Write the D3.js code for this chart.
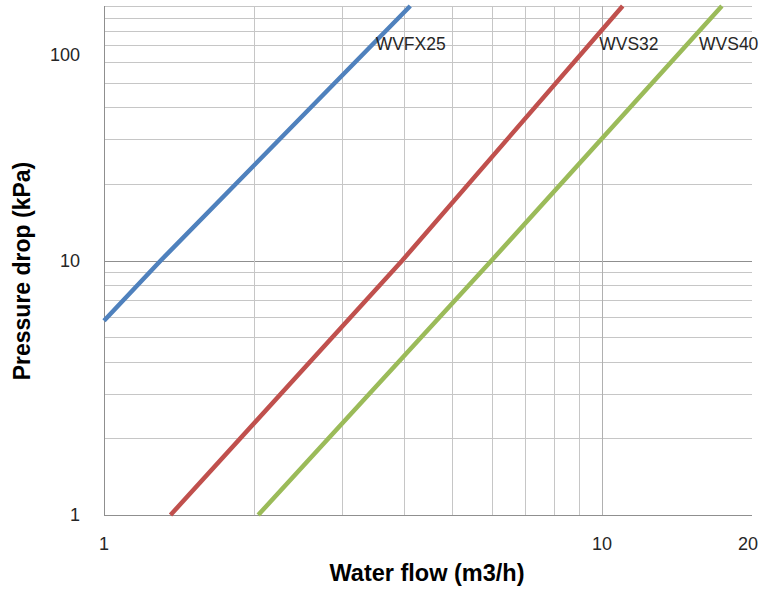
<!DOCTYPE html>
<html>
<head>
<meta charset="utf-8">
<script src="https://cdn.jsdelivr.net/npm/d3@7"></script>
<style>
  html, body { margin: 0; padding: 0; background: #fff; }
  svg { display: block; font-family: "Liberation Sans", Arial, sans-serif; }
</style>
</head>
<body>
<svg id="chart" width="775" height="589"></svg>
<script>
// ---- data ----
const seriesNames = ["WVFX25", "WVS32", "WVS40"];
const seriesColors = ["#4F81BD", "#C0504D", "#9BBB59"];
// water flow (m3/h) and pressure drop (kPa) pairs
const flowWVFX25 = [1.0, 1.3, 4.12];
const dropWVFX25 = [5.8, 10, 100];
const flowWVS32 = [1.36, 3.97, 11.0];
const dropWVS32 = [1, 10, 100];
const flowWVS40 = [2.04, 6.0, 17.4];
const dropWVS40 = [1, 10, 100];

const xTickLabels = [1, 10, 20];
const yTickLabels = [1, 10, 100];
const xGrid = [2, 3, 4, 5, 6, 7, 8, 9, 10];
const yGrid = [2, 3, 4, 5, 6, 7, 8, 9, 10, 20, 30, 40, 50, 60, 70, 80, 90, 100];

const xTitle = "Water flow (m3/h)";
const yTitle = "Pressure drop (kPa)";

(function () {
// ---- layout ----
const svg = d3.select("#chart");
const pLeft = 104, pRight = 752, pTop = 6, pBottom = 515;

const x = d3.scaleLog().domain([1, 20]).range([pLeft, pRight]);
const y = d3.scaleLog().domain([1, 100]).range([pBottom, pTop]);

const g = svg.append("g");

// horizontal grid
g.selectAll("line.hgrid").data(yGrid).enter().append("line")
  .attr("x1", pLeft).attr("x2", pRight)
  .attr("y1", d => Math.round(y(d)) + 0.5).attr("y2", d => Math.round(y(d)) + 0.5)
  .attr("stroke", d => (d === 10 ? "#8f8f8f" : "#c6c6c6"))
  .attr("stroke-width", 1);

// vertical grid
g.selectAll("line.vgrid").data(xGrid).enter().append("line")
  .attr("y1", pTop).attr("y2", pBottom)
  .attr("x1", d => Math.round(x(d)) + 0.5).attr("x2", d => Math.round(x(d)) + 0.5)
  .attr("stroke", d => (d === 10 ? "#b0b0b0" : "#c6c6c6"))
  .attr("stroke-width", 1);

// axes lines
g.append("line").attr("x1", pLeft + 0.5).attr("x2", pLeft + 0.5).attr("y1", pTop).attr("y2", pBottom + 0.5)
  .attr("stroke", "#8f8f8f");
g.append("line").attr("x1", pLeft).attr("x2", pRight).attr("y1", pBottom + 0.5).attr("y2", pBottom + 0.5)
  .attr("stroke", "#8f8f8f");

// series
const series = [
  { name: seriesNames[0], color: seriesColors[0], flow: flowWVFX25, drop: dropWVFX25 },
  { name: seriesNames[1], color: seriesColors[1], flow: flowWVS32, drop: dropWVS32 },
  { name: seriesNames[2], color: seriesColors[2], flow: flowWVS40, drop: dropWVS40 }
];
const line = d3.line().x(d => x(d[0])).y(d => y(d[1]));

series.forEach(s => {
  const pts = s.flow.map((f, i) => [f, s.drop[i]]);
  g.append("path").datum(pts)
    .attr("d", line)
    .attr("fill", "none")
    .attr("stroke", s.color)
    .attr("stroke-width", 4.5);
});

// series labels: placed just right of each line near the top
const labelDrop = 72;
const labelOffsets = [1, 8, 10];
series.forEach((s, k) => {
  const lf = s.flow.map(Math.log), ld = s.drop.map(Math.log);
  const t = Math.log(labelDrop);
  let q = s.flow[s.flow.length - 1];
  for (let i = 0; i < ld.length - 1; i++) {
    if (t >= ld[i] && t <= ld[i + 1]) {
      q = Math.exp(lf[i] + (t - ld[i]) / (ld[i + 1] - ld[i]) * (lf[i + 1] - lf[i]));
    }
  }
  g.append("text")
    .attr("x", x(q) + labelOffsets[k])
    .attr("y", 50)
    .attr("font-size", 17.5)
    .attr("fill", "#262626")
    .text(s.name);
});

// x tick labels
g.selectAll("text.xt").data(xTickLabels).enter().append("text")
  .attr("x", d => (d === 20 ? x(d) - 4 : x(d)))
  .attr("y", 550)
  .attr("text-anchor", "middle")
  .attr("font-size", 18)
  .attr("fill", "#262626")
  .text(d => d);

// y tick labels
g.selectAll("text.yt").data(yTickLabels).enter().append("text")
  .attr("x", 80)
  .attr("y", d => y(d) + (d === 100 ? 49 : 0))
  .attr("dy", "0.35em")
  .attr("text-anchor", "end")
  .attr("font-size", 18)
  .attr("fill", "#262626")
  .text(d => d);

// axis titles
svg.append("text")
  .attr("x", 427)
  .attr("y", 581)
  .attr("text-anchor", "middle")
  .attr("font-size", 23.5)
  .attr("font-weight", "bold")
  .attr("fill", "#000")
  .text(xTitle);

svg.append("text")
  .attr("transform", "translate(30,271) rotate(-90)")
  .attr("text-anchor", "middle")
  .attr("font-size", 23)
  .attr("font-weight", "bold")
  .attr("fill", "#000")
  .text(yTitle);
})();
</script>
</body>
</html>
